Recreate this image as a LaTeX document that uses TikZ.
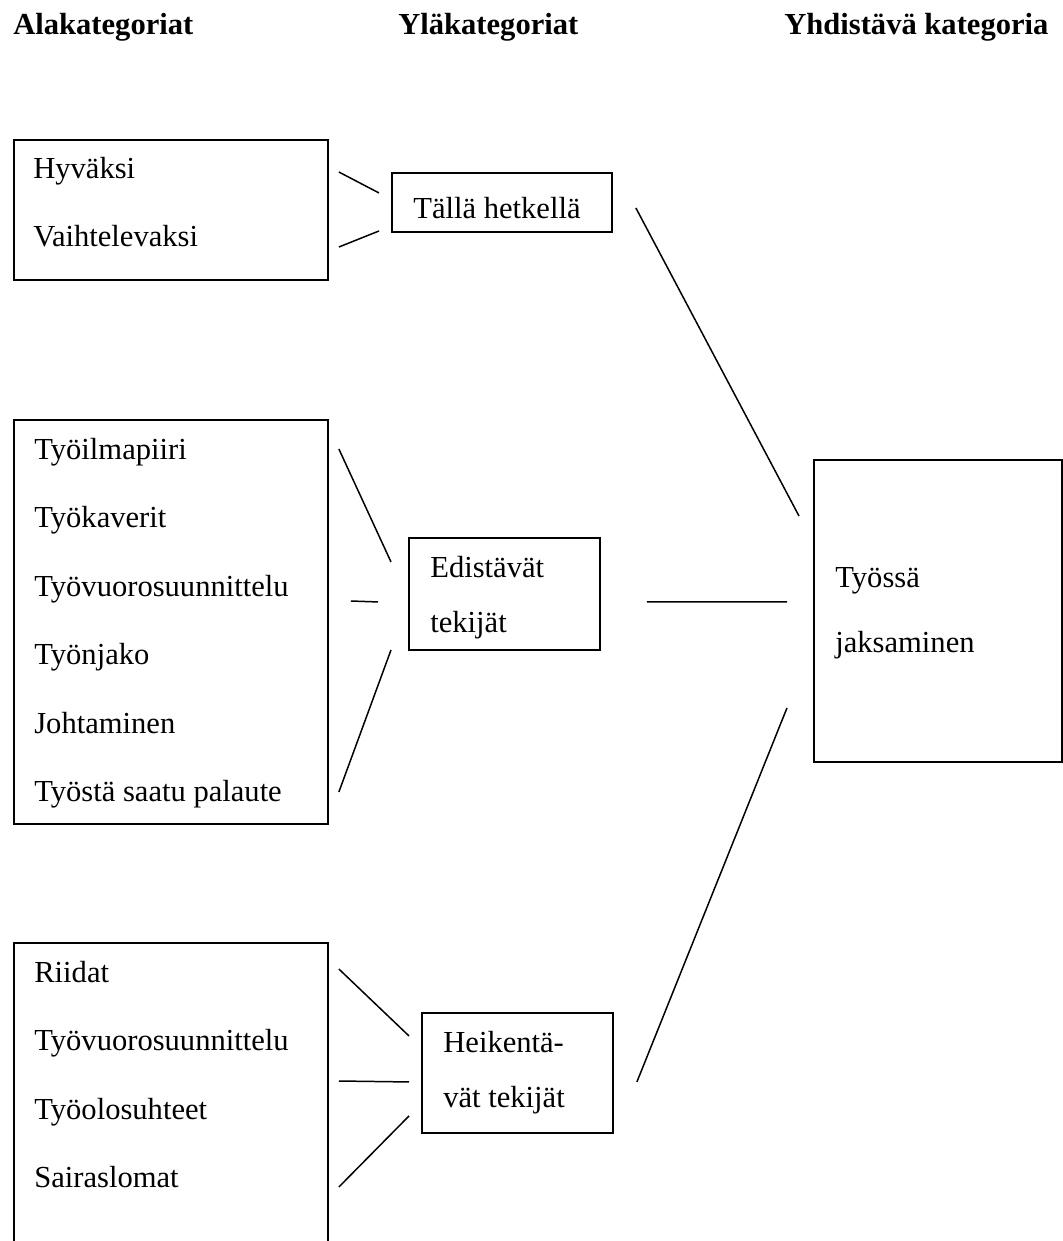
\documentclass[tikz,border=0pt]{standalone}
\usepackage{fontspec}
\setmainfont{Liberation Serif}
\usetikzlibrary{positioning,calc}

\begin{document}
\begin{tikzpicture}[x=0.02cm, y=-0.02cm]
	% Configurable lengths
	\def\itemSkip{1.372cm}
	\def\pairSkip{1.11cm}
	\def\coreSkip{1.32cm}

	% Styles
	\tikzstyle{catbox}=[draw, rectangle, line width=1.1pt, anchor=north west, inner sep=0pt]
	\tikzstyle{link}=[line width=0.85pt]
	\tikzstyle{item}=[anchor=base west, inner sep=0pt, font={\fontsize{17.4}{20}\selectfont}]
	\tikzstyle{heading}=[item, font={\fontsize{17.4}{20}\selectfont\bfseries}]

	\useasboundingbox (0,0) rectangle (1062,1241);

	% Headings
	\node[heading] (alahead) at (13,34) {Alakategoriat};
	\node[heading] (ylahead) at (398,34) {Yläkategoriat};
	\node[heading] (yhdhead) at (784,34) {Yhdistävä kategoria};

	% Boxes
	\node[catbox, minimum width=6.28cm, minimum height=2.8cm] (sub1) at (13,139) {};
	\node[catbox, minimum width=6.28cm, minimum height=8.08cm] (sub2) at (13,419) {};
	\node[catbox, minimum width=6.28cm, minimum height=7.2cm] (sub3) at (13,942) {};
	\node[catbox, minimum width=4.4cm, minimum height=1.18cm] (top1) at (391,172) {};
	\node[catbox, minimum width=3.82cm, minimum height=2.24cm] (top2) at (408,537) {};
	\node[catbox, minimum width=3.82cm, minimum height=2.4cm] (top3) at (421,1012) {};
	\node[catbox, minimum width=4.96cm, minimum height=6.04cm] (core) at (813,459) {};

	% Sub categories
	\node[item] (hyvaksi) at (33,178) {Hyväksi};
	\node[item, below=\itemSkip of hyvaksi.base west, anchor=base west] (vaihtelevaksi) {Vaihtelevaksi};

	\node[item] (ilmapiiri) at (34,459) {Työilmapiiri};
	\node[item, below=\itemSkip of ilmapiiri.base west, anchor=base west] (kaverit) {Työkaverit};
	\node[item, below=\itemSkip of kaverit.base west, anchor=base west] (vuorot) {Työvuorosuunnittelu};
	\node[item, below=\itemSkip of vuorot.base west, anchor=base west] (jako) {Työnjako};
	\node[item, below=\itemSkip of jako.base west, anchor=base west] (johtaminen) {Johtaminen};
	\node[item, below=\itemSkip of johtaminen.base west, anchor=base west] (palaute) {Työstä saatu palaute};

	\node[item] (riidat) at (34,982) {Riidat};
	\node[item, below=\itemSkip of riidat.base west, anchor=base west] (vuorot2) {Työvuorosuunnittelu};
	\node[item, below=\itemSkip of vuorot2.base west, anchor=base west] (olosuhteet) {Työolosuhteet};
	\node[item, below=\itemSkip of olosuhteet.base west, anchor=base west] (sairaslomat) {Sairaslomat};

	% Upper categories
	\node[item] (hetki) at (413,218) {Tällä hetkellä};
	\node[item] (edist) at (430,577) {Edistävät};
	\node[item, below=\pairSkip of edist.base west, anchor=base west] (edist2) {tekijät};
	\node[item] (heik) at (443,1052) {Heikentä-};
	\node[item, below=\pairSkip of heik.base west, anchor=base west] (heik2) {vät tekijät};

	% Combining category
	\node[item] (tyossa) at (835,587) {Työssä};
	\node[item, below=\coreSkip of tyossa.base west, anchor=base west] (jaksaminen) {jaksaminen};

	% Links
	\draw[link] ($(sub1.north east)+(10,33)$) -- ($(top1.west)+(-12,-9.5)$);
	\draw[link] ($(sub1.north east)+(10,108)$) -- ($(top1.west)+(-12,28.5)$);
	\draw[link] ($(top1.east)+(23,5.5)$) -- ($(core.north west)+(-14,57)$);

	\draw[link] ($(sub2.north east)+(10,30)$) -- ($(top2.west)+(-17,-32)$);
	\draw[link] ($(sub2.north east)+(22,182)$) -- ($(top2.west)+(-30,8)$);
	\draw[link] ($(sub2.north east)+(10,373)$) -- ($(top2.west)+(-17,56)$);
	\draw[link] ($(top2.east)+(46,8)$) -- ($(core.west)+(-26,-9)$);

	\draw[link] ($(sub3.north east)+(10,27)$) -- ($(top3.west)+(-12,-37)$);
	\draw[link] ($(sub3.north east)+(10,139)$) -- ($(top3.west)+(-12,9)$);
	\draw[link] ($(sub3.north east)+(10,245)$) -- ($(top3.west)+(-12,43)$);
	\draw[link] ($(top3.east)+(23,9)$) -- ($(core.south west)+(-26,-55)$);
\end{tikzpicture}
\end{document}
